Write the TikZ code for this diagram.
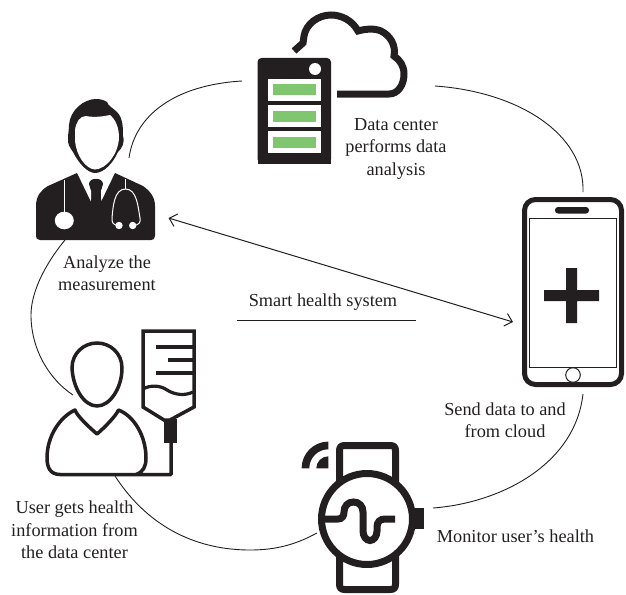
\documentclass[tikz,border=0pt]{standalone}
\usepackage{fontspec}
\setmainfont{Liberation Serif}
\usetikzlibrary{arrows.meta}
\definecolor{ink}{HTML}{231F20}
\definecolor{srvgreen}{HTML}{7FC66E}
\tikzset{
  label text/.style={text=ink,align=center,inner sep=0pt,font=\fontsize{18.3}{22.5}\selectfont},
  link/.style={draw=ink,line width=0.9pt},
  steth/.style={draw=white,line width=1pt},
}
\begin{document}
\begin{tikzpicture}[x=1pt,y=-1pt]
\useasboundingbox (0,0) rectangle (626,594);
% connector end points
\coordinate (srvL) at (242,81);
\coordinate (docT) at (129,158);
\coordinate (cloudR) at (435,86);
\coordinate (phoneT) at (583,192);
\coordinate (phoneB) at (583,394);
\coordinate (watchR) at (433,508);
\coordinate (watchL) at (317,533);
\coordinate (userB) at (115,476);
\coordinate (userL) at (73,395);
\coordinate (docB) at (65,240);
\coordinate (arrA) at (168.5,218);
\coordinate (arrB) at (513,322);
\coordinate (ulA) at (237,320);
\coordinate (ulB) at (416,320);
% connectors
\draw[link] (srvL) .. controls (175,85) and (135,115) .. (docT);
\draw[link] (cloudR) .. controls (520,92) and (585,135) .. (phoneT);
\draw[link] (phoneB) .. controls (575,465) and (500,503) .. (watchR);
\draw[link] (watchL) .. controls (295,545) and (275,550) .. (250,550) .. controls (200,550) and (150,530) .. (userB);
\draw[link] (userL) .. controls (50,380) and (31,350) .. (31,315) .. controls (31,295) and (42,268) .. (docB);
\draw[draw=ink,line width=1pt,{Straight Barb[length=7pt,width=13pt]}-{Straight Barb[length=7pt,width=13pt]}] (arrA) -- (arrB);
\draw[draw=ink,line width=1pt] (ulA) -- (ulB);
% doctor
\fill[ink] (96,99) .. controls (84,99) and (70,110) .. (69,125) .. controls (69,130) and (68,134) .. (68,138)
  .. controls (67,144) and (71,149) .. (73,152) .. controls (79,164) and (88,173) .. (95,173)
  .. controls (104,173) and (113,163) .. (118,152) .. controls (122,148) and (125,143) .. (123,136)
  .. controls (123,128) and (123,118) .. (117,112) .. controls (113,108) and (108,106) .. (107,102) .. controls (104,100) and (100,99) .. (96,99) -- cycle;
\fill[white] (75,130) .. controls (76,122) and (80,116) .. (86,116) .. controls (95,118) and (105,116) .. (110,115)
  .. controls (116,120) and (119,128) .. (119,138) .. controls (118,155) and (106,169) .. (95,169.5)
  .. controls (86,169) and (76,156) .. (75,140) -- cycle;
\fill[ink] (77,173) -- (91,202) -- (91,192) -- (89,184) .. controls (89,177) and (103,177) .. (103,184) -- (101,192) -- (101,202) -- (115,173)
  -- (143,186) .. controls (150,191) and (155,197) .. (155,206) -- (155,236) .. controls (155,239) and (153,240) .. (151,240)
  -- (40,240) .. controls (37,240) and (36,238) .. (36,236) -- (36,206) .. controls (36,196) and (41,190) .. (48,186) -- cycle;
\fill[white] (79,173) -- (91,199) -- (91,191) -- (88,183) .. controls (88,177) and (92,175) .. (96,175) .. controls (100,175) and (104,177) .. (104,183) -- (101,191) -- (101,199) -- (113,173) -- cycle;
\draw[steth] (64,180) -- (64,212);
\fill[white] (64.3,220.5) ellipse [x radius=9.5,y radius=8.8];
\draw[steth] (125.5,179) -- (125.5,189);
\draw[steth] (119,225.5) .. controls (113,225.5) and (111.5,222) .. (112,218) .. controls (113,207) and (114,189) .. (125.5,189)
  .. controls (137,189) and (138,207) .. (140,218) .. controls (141,222) and (139,225.5) .. (133,225.5);
\fill[white] (119,225.5) circle [radius=3.7];
\fill[white] (132.7,225.5) circle [radius=3.7];
% server and cloud
\draw[ink,line width=7pt] (337,94) -- (389,94) .. controls (398,94) and (404,85) .. (404,74) .. controls (404,66) and (400,60) .. (394,56)
  .. controls (396,46) and (391,36) .. (381,31) .. controls (374,28) and (365,29) .. (358,31)
  .. controls (352,20) and (341,15) .. (331,15) .. controls (318,15) and (306,24) .. (304,36) -- (303,43) -- (294,51);
\fill[ink,rounded corners=4pt] (257.5,58) -- (331,58) -- (331,163) -- (257.5,163) -- cycle;
\fill[ink] (257.5,155) rectangle (331,163.5);
\fill[white] (315,69) circle [radius=6];
\foreach \t/\g in {79/84,105/111,131/137}{
  \fill[white] (268,\t) rectangle (321,\t+22);
  \fill[srvgreen] (273,\g) rectangle (316,\g+11);
}
% phone
\draw[ink,line width=5pt,rounded corners=11pt] (524.5,199.5) rectangle (621.5,384.5);
\draw[ink,line width=1pt] (529.5,218) rectangle (616.5,367);
\fill[ink,rounded corners=3pt] (555,207) -- (589,207) -- (589,213.5) -- (555,213.5) -- cycle;
\draw[ink,line width=1pt,fill=white] (573,375) circle [radius=7.3];
\fill[ink] (566,268) -- (577,268) -- (577,290) -- (599,290) -- (599,301) -- (577,301) -- (577,323) -- (566,323) -- (566,301) -- (544,301) -- (544,290) -- (566,290) -- cycle;
% watch
\draw[ink,line width=7pt,line join=round] (339.5,490) -- (339.5,451) .. controls (339.5,447) and (341,445.5) .. (345,445.5) -- (390,445.5) .. controls (394,445.5) and (395.5,447) .. (395.5,451) -- (395.5,490);
\draw[ink,line width=7pt,line join=round] (339.5,550) -- (339.5,584) .. controls (339.5,588) and (341,589.5) .. (345,589.5) -- (390,589.5) .. controls (394,589.5) and (395.5,588) .. (395.5,584) -- (395.5,550);
\draw[ink,line width=7pt,fill=white] (367,519) circle [radius=45.5];
\fill[ink] (415,508) rectangle (424,529);
\draw[ink,line width=7pt] (325,519) -- (338,519) .. controls (342,519) and (344,516) .. (344,512) .. controls (344,506) and (348,502) .. (353.5,502)
  .. controls (359,502) and (363,506) .. (363,512) -- (363,531) .. controls (363,536) and (366,540.5) .. (370,540.5) .. controls (374,540.5) and (377,536) .. (377,531)
  -- (377,527) .. controls (377,522) and (380,519) .. (385,519) -- (395,519);
\fill[ink] (301.6,468.3) arc [start angle=180,end angle=270,radius=26.7] -- (328.3,449.3) arc [start angle=270,end angle=180,radius=19] -- cycle;
\fill[ink] (316.3,468.3) arc [start angle=180,end angle=270,radius=12] -- (328.3,468.3) -- cycle;
% user
\draw[ink,line width=3.5pt] (97,343) .. controls (110,343) and (122,353) .. (122,368) .. controls (122,388) and (110,406) .. (97,406)
  .. controls (84,406) and (73,388) .. (72,368) .. controls (72,353) and (84,343) .. (97,343) -- cycle;
\draw[ink,line width=3.5pt,line join=round] (171,443) -- (171,474.5) -- (60,474.5) .. controls (50,474.5) and (47,467) .. (47,458)
  .. controls (47,436) and (60,417) .. (75,410) .. controls (77,416) and (90,428) .. (97,434) .. controls (104,428) and (116,416) .. (118.5,410)
  .. controls (134,416) and (146,436) .. (146,458) .. controls (146,467) and (143,472) .. (136,474.5);
\draw[ink,line width=3.5pt,line join=miter] (143,331) -- (194,331) -- (194,407) -- (170,420) -- (164,420) -- (143,407) -- cycle;
\draw[ink,line width=3.2pt] (143,389) .. controls (150,385) and (160,385) .. (167,390) .. controls (175,395) and (185,396) .. (193,392);
\fill[ink] (164,419) rectangle (177,443);
\draw[ink,line width=3.5pt] (156,347) -- (193,347);
\draw[ink,line width=3.5pt] (168,360) -- (193,360);
\draw[ink,line width=3.5pt] (156,373) -- (193,373);
% labels
\node[label text] (tAnalyze) at (107,273) {Analyze the\\measurement};
\node[label text] (tCenter) at (396,148.5) {Data center\\performs data\\analysis};
\node[label text] (tSmart) at (323,302) {Smart health system};
\node[label text] (tSend) at (505,420) {Send data to and\\from cloud};
\node[label text] (tMonitor) at (515.5,536) {Monitor user’s health};
\node[label text] (tUser) at (74.5,530) {User gets health\\information from\\the data center};
\end{tikzpicture}
\end{document}
